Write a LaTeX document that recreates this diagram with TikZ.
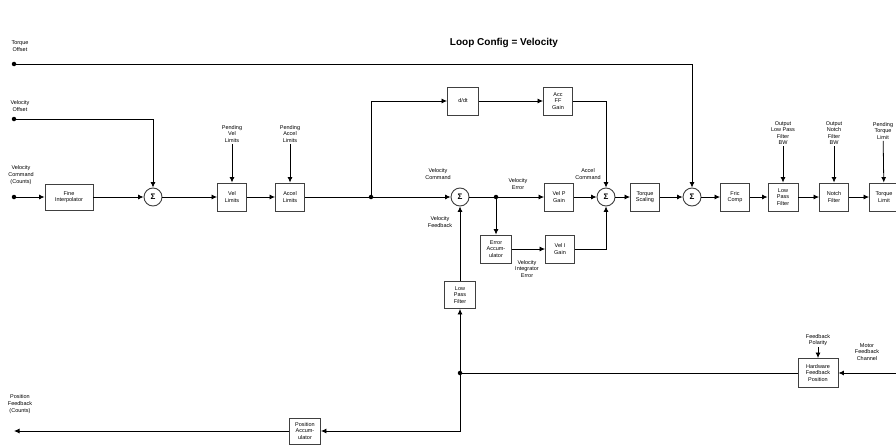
\documentclass[tikz,border=0pt]{standalone}
\usepackage{fontspec}
\setmainfont{Liberation Sans}
\usetikzlibrary{arrows.meta}
\begin{document}
\begin{tikzpicture}[x=1pt,y=-1pt,
  txt/.style={font=\fontsize{5.5}{6.6}\selectfont},
  blk/.style={txt,draw=black!75,line width=0.9pt,fill=white,align=center,minimum width=29pt,minimum height=28pt,inner sep=1pt},
  sumc/.style={circle,draw=black!75,line width=0.9pt,fill=white,minimum size=18pt,inner sep=0pt,font=\fontsize{8}{8}\selectfont\bfseries},
  lbl/.style={txt,align=center,inner sep=1pt},
  jdot/.style={circle,fill=black,inner sep=0pt,minimum size=4.5pt},
  arr/.style={-{Latex[length=5.5pt,width=5pt]},line width=0.8pt},
  ln/.style={line width=0.8pt}]
\useasboundingbox (0,0) rectangle (896,444);
\node[font=\fontsize{10}{12}\selectfont\bfseries] (title) at (504,43) {Loop Config = Velocity};
% inputs
\node[lbl] (tqlbl) at (20,46) {Torque\\Offset};
\node[jdot] (tqin) at (14,64) {};
\node[lbl] (volbl) at (20,106) {Velocity\\Offset};
\node[jdot] (voin) at (14,119) {};
\node[lbl] (vclbl) at (21,175) {Velocity\\Command\\(Counts)};
\node[jdot] (vcin) at (14,197) {};
% main row
\node[blk,minimum width=48pt,minimum height=26pt] (fi) at (69,197) {Fine\\Interpolator};
\node[sumc] (s1) at (153,197) {Σ};
\node[blk] (vl) at (232,197) {Vel\\Limits};
\node[blk] (al) at (290,197) {Accel\\Limits};
\node[lbl] (pvl) at (232,134) {Pending\\Vel\\Limits};
\node[lbl] (pal) at (290,134) {Pending\\Accel\\Limits};
\node[jdot] (j1) at (371,197) {};
\node[blk,minimum width=31pt] (ddt) at (463,101) {d/dt};
\node[blk] (aff) at (558,101) {Acc\\FF\\Gain};
\node[sumc] (s2) at (460,197) {Σ};
\node[lbl] (vcmd) at (438,174) {Velocity\\Command};
\node[lbl] (vfb) at (440,222) {Velocity\\Feedback};
\node[jdot] (j2) at (496,197) {};
\node[lbl] (verr) at (518,184) {Velocity\\Error};
\node[blk] (vp) at (559,197) {Vel P\\Gain};
\node[sumc] (s4) at (606,197) {Σ};
\node[lbl] (acmd) at (588,174) {Accel\\Command};
\node[blk,minimum width=31pt] (ea) at (496,249) {Error\\Accum-\\ulator};
\node[blk] (vi) at (560,249) {Vel I\\Gain};
\node[lbl] (vie) at (527,269) {Velocity\\Integrator\\Error};
\node[blk] (ts) at (645,197) {Torque\\Scaling};
\node[sumc] (s3) at (692,197) {Σ};
\node[blk] (fc) at (735,197) {Fric\\Comp};
\node[blk,minimum width=30pt] (lpf) at (783,197) {Low\\Pass\\Filter};
\node[blk] (nf) at (834,197) {Notch\\Filter};
\node[blk] (tl) at (884,197) {Torque\\Limit};
\node[lbl] (olpf) at (783,133) {Output\\Low Pass\\Filter\\BW};
\node[lbl] (onf) at (834,133) {Output\\Notch\\Filter\\BW};
\node[lbl] (ptl) at (883,131) {Pending\\Torque\\Limit};
% feedback
\node[blk,minimum width=31pt,minimum height=27pt] (fblpf) at (460,295) {Low\\Pass\\Filter};
\node[jdot] (j3) at (460,373) {};
\node[blk,minimum width=40pt,minimum height=29pt] (hfp) at (818,373) {Hardware\\Feedback\\Position};
\node[lbl] (fpol) at (818,340) {Feedback\\Polarity};
\node[lbl] (mfc) at (867,352) {Motor\\Feedback\\Channel};
\coordinate (mfcin) at (896,373);
\coordinate (corner) at (460,431);
\node[blk,minimum width=31pt,minimum height=26pt] (pa) at (305,431) {Position\\Accum-\\ulator};
\coordinate (pfout) at (14,431);
\node[lbl] (pflbl) at (20,404) {Position\\Feedback\\(Counts)};
% connectors
\draw[arr] (tqin) -| (s3);
\draw[arr] (voin) -| (s1);
\draw[arr] (vcin) -- (fi);
\draw[arr] (fi) -- (s1);
\draw[arr] (s1) -- (vl);
\draw[arr] (vl) -- (al);
\draw[ln] (al) -- (j1);
\draw[arr] (j1) -- (s2);
\draw[arr] (j1) |- (ddt);
\draw[arr] (ddt) -- (aff);
\draw[arr] (aff) -| (s4);
\draw[arr] (pvl) -- (vl);
\draw[arr] (pal) -- (al);
\draw[ln] (s2) -- (j2);
\draw[arr] (j2) -- (vp);
\draw[arr] (j2) -- (ea);
\draw[arr] (vp) -- (s4);
\draw[arr] (ea) -- (vi);
\draw[arr] (vi) -| (s4);
\draw[arr] (s4) -- (ts);
\draw[arr] (ts) -- (s3);
\draw[arr] (s3) -- (fc);
\draw[arr] (fc) -- (lpf);
\draw[arr] (lpf) -- (nf);
\draw[arr] (nf) -- (tl);
\draw[arr] (olpf) -- (lpf);
\draw[arr] (onf) -- (nf);
\draw[arr] (ptl) -- (tl);
\draw[arr] (fpol) -- (hfp);
\draw[arr] (mfcin) -- (hfp);
\draw[ln] (hfp) -- (j3);
\draw[arr] (j3) -- (fblpf);
\draw[arr] (fblpf) -- (s2);
\draw[arr] (j3) -- (corner) -- (pa);
\draw[arr] (pa) -- (pfout);
\end{tikzpicture}
\end{document}
